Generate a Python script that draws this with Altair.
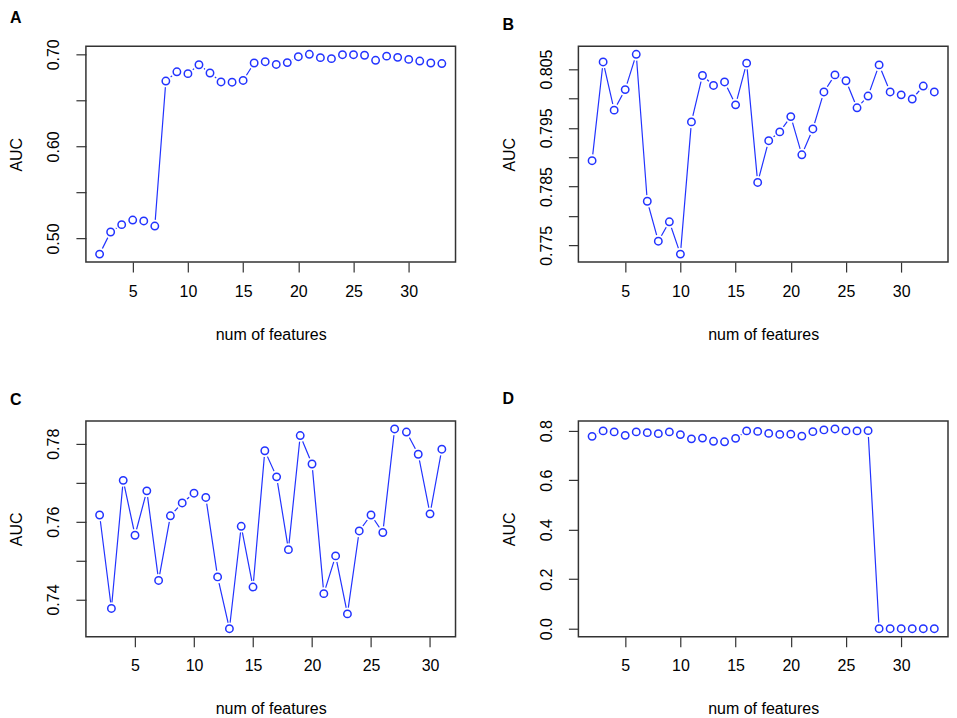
import altair as alt
import pandas as pd

# ---------------- data ----------------
x_A = list(range(2, 34))
auc_A = [0.483, 0.507, 0.515, 0.520, 0.519, 0.5135, 0.671, 0.681, 0.679, 0.6887,
         0.6797, 0.670, 0.6697, 0.6716, 0.6906, 0.692, 0.689, 0.691, 0.6974, 0.700,
         0.6964, 0.6953, 0.6996, 0.6996, 0.699, 0.6935, 0.698, 0.6967, 0.6945, 0.6927,
         0.6906, 0.690]

x_B = list(range(2, 34))
auc_B = [0.7894, 0.8062, 0.7980, 0.8015, 0.8075, 0.7825, 0.7757, 0.7790, 0.7735, 0.7960,
         0.8039, 0.8022, 0.8028, 0.7989, 0.8060, 0.7857, 0.7928, 0.7943, 0.7969, 0.7904,
         0.7948, 0.8011, 0.8040, 0.8030, 0.7984, 0.8004, 0.8057, 0.8011, 0.8006, 0.7999,
         0.8021, 0.8011]

x_C = list(range(2, 32))
auc_C = [0.7617, 0.7377, 0.7706, 0.7565, 0.7679, 0.7449, 0.7615, 0.7648, 0.7673, 0.7662,
         0.7458, 0.7325, 0.7588, 0.7432, 0.7782, 0.7715, 0.7528, 0.7821, 0.7748, 0.7415,
         0.7512, 0.7363, 0.7576, 0.7617, 0.7572, 0.7838, 0.7830, 0.7773, 0.7620, 0.7786]

x_D = list(range(2, 34))
auc_D = [0.777, 0.799, 0.795, 0.781, 0.795, 0.792, 0.788, 0.795, 0.784, 0.767,
         0.770, 0.757, 0.755, 0.769, 0.799, 0.797, 0.789, 0.785, 0.786, 0.778,
         0.796, 0.803, 0.807, 0.799, 0.799, 0.800, 0.0, 0.0, 0.0, 0.0,
         0.0, 0.0]

x_ticks = [5, 10, 15, 20, 25, 30]
ticks_A = [0.50, 0.55, 0.60, 0.65, 0.70]
labels_A = ["0.50", "0.60", "0.70"]
ticks_B = [0.775, 0.780, 0.785, 0.790, 0.795, 0.800, 0.805]
labels_B = ["0.775", "0.785", "0.795", "0.805"]
ticks_C = [0.74, 0.75, 0.76, 0.77, 0.78]
labels_C = ["0.74", "0.76", "0.78"]
ticks_D = [0.0, 0.2, 0.4, 0.6, 0.8]
labels_D = ["0.0", "0.2", "0.4", "0.6", "0.8"]

BLUE = "#2233FF"
FONT = "Liberation Sans"
W, H = 370, 216


def pad_range(vals):
    lo, hi = min(vals), max(vals)
    p = 0.04 * (hi - lo)
    return [lo - p, hi + p]


def panel(letter, xs, ys, yticks, ylabels, fmt):
    df = pd.DataFrame({"n": xs, "auc": ys})
    labexpr = (
        "indexof(" + str(ylabels) + ", format(datum.value, '" + fmt + "')) >= 0"
        " ? format(datum.value, '" + fmt + "') : ''"
    )
    xenc = alt.X(
        "n:Q",
        scale=alt.Scale(domain=pad_range(xs), nice=False, zero=False),
        axis=alt.Axis(values=x_ticks, title="num of features", format="d"),
    )
    yenc = alt.Y(
        "auc:Q",
        scale=alt.Scale(domain=pad_range(ys), nice=False, zero=False),
        axis=alt.Axis(values=yticks, title="AUC", labelExpr=labexpr,
                      labelAngle=270, labelAlign="center", labelBaseline="bottom"),
    )
    base = alt.Chart(df).encode(x=xenc, y=yenc)
    line = base.mark_line(color=BLUE, strokeWidth=1.2)
    gap = base.mark_point(shape="circle", filled=True, color="white", opacity=1,
                          size=160, strokeWidth=0)
    pts = base.mark_point(shape="circle", filled=False, color=BLUE, opacity=1,
                          size=55, strokeWidth=1.5)
    return alt.layer(line, gap, pts).properties(
        width=W, height=H,
        title=alt.TitleParams(letter, anchor="start", frame="group", dx=-76,
                              offset=13, fontSize=16, fontWeight="bold",
                              font=FONT, color="black"),
    )


pA = panel("A", x_A, auc_A, ticks_A, labels_A, ".2f")
pB = panel("B", x_B, auc_B, ticks_B, labels_B, ".3f")
pC = panel("C", x_C, auc_C, ticks_C, labels_C, ".2f")
pD = panel("D", x_D, auc_D, ticks_D, labels_D, ".1f")

chart = alt.concat(
    pA, pB, pC, pD, columns=2,
    spacing=alt.RowColnumber(row=159, column=123), bounds="flush",
).configure(
    background="white", padding=0
).configure_view(
    stroke="#333333", strokeWidth=1.5
).configure_axis(
    domain=False, grid=False, tickSize=10, tickWidth=1.2, tickColor="#333333",
    labelFont=FONT, labelFontSize=16, labelColor="black",
    titleFont=FONT, titleFontSize=16, titleFontWeight="normal", titleColor="black",
).configure_axisX(titlePadding=27, labelPadding=11).configure_axisY(
    titlePadding=21, labelPadding=14
)

chart.save("out.html", embed_options={"renderer": "svg", "actions": False})
